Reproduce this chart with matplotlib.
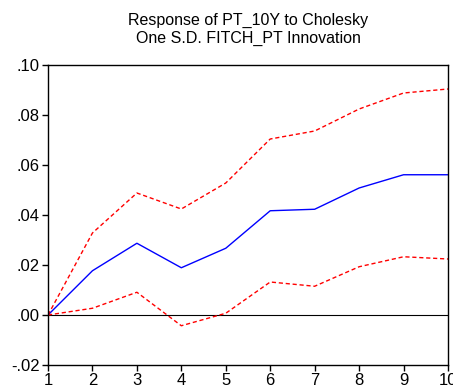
import matplotlib as mpl
mpl.use('Agg')
import matplotlib.pyplot as plt
from matplotlib.ticker import FuncFormatter

plt.rcParams['font.family'] = ['Liberation Sans', 'DejaVu Sans']

periods = [1, 2, 3, 4, 5, 6, 7, 8, 9, 10]
response = [0.0, 0.0177, 0.0287, 0.0189, 0.0267, 0.0417, 0.0423, 0.0508, 0.0561, 0.0561]
upper = [0.0, 0.0328, 0.0488, 0.0424, 0.0528, 0.0704, 0.0736, 0.0824, 0.0888, 0.0904]
lower = [0.0, 0.0027, 0.0091, -0.0043, 0.0007, 0.0132, 0.0115, 0.0193, 0.0233, 0.0224]

fig = plt.figure(figsize=(4.53, 3.92), dpi=100)
ax = fig.add_axes([48/453, 27/392, 400/453, 300/392])

ax.axhline(0, color='black', linewidth=0.8)
ax.plot(periods, response, color='blue', linewidth=1)
ax.plot(periods, upper, color='red', linewidth=1, linestyle=(0, (3, 2)))
ax.plot(periods, lower, color='red', linewidth=1, linestyle=(0, (3, 2)))

ax.set_xlim(1, 10)
ax.set_ylim(-0.02, 0.10)
ax.set_xticks(periods)
ax.set_yticks([-0.02, 0.0, 0.02, 0.04, 0.06, 0.08, 0.10])

def fmt(v, pos):
    s = "%.2f" % v
    return s.replace("0.", ".", 1)

ax.yaxis.set_major_formatter(FuncFormatter(fmt))
ax.tick_params(direction='out', length=4, width=1, labelsize=12, pad=2)
for sp in ax.spines.values():
    sp.set_linewidth(1)

ax.set_title("Response of PT_10Y to Cholesky\nOne S.D. FITCH_PT Innovation",
             fontsize=11.5, pad=16, linespacing=1.2)

plt.savefig('out.png', dpi=100)
